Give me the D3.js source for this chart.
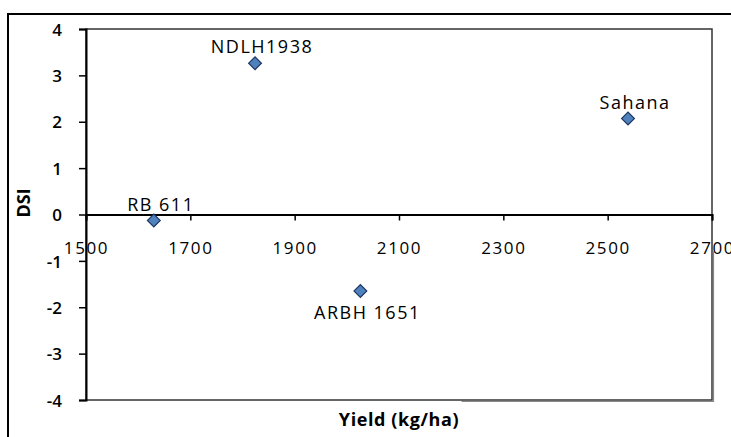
<!DOCTYPE html>
<html lang="en">
  <head>
    <meta charset="UTF-8" />
    <title>DSI vs yield</title>
    <script src="https://cdnjs.cloudflare.com/ajax/libs/d3/7.9.0/d3.min.js"></script>
    <style>
      body { margin: 0; background: #fff; }
      text { font-family: "Open Sans", sans-serif; fill: #000; }
    </style>
  </head>
  <body>
    <div id="wrapper"></div>
    <script>
      // genotypes
      const genotypes = ["NDLH1938", "Sahana", "RB 611", "ARBH 1651"];
      const yieldValues = [1824, 2539, 1630, 2026];
      const dsiValues = [3.26, 2.07, -0.13, -1.65];
      const labelSide = ["above", "above", "above", "below"];

      const xTicks = [1500, 1700, 1900, 2100, 2300, 2500, 2700];
      const yTicks = [-4, -3, -2, -1, 0, 1, 2, 3, 4];

      const dimensions = {
        width: 731,
        height: 437,
        margin: { left: 86, right: 19, top: 29, bottom: 37 },
      };
      dimensions.boundedWidth =
        dimensions.width - dimensions.margin.left - dimensions.margin.right;
      dimensions.boundedHeight =
        dimensions.height - dimensions.margin.top - dimensions.margin.bottom;

      const svg = d3
        .select("#wrapper")
        .append("svg")
        .attr("width", dimensions.width)
        .attr("height", dimensions.height);

      // outer frame (only top and left show)
      svg.append("line")
        .attr("x1", 8).attr("x2", dimensions.width)
        .attr("y1", 14).attr("y2", 14)
        .attr("stroke", "#000").attr("stroke-width", 2);
      svg.append("line")
        .attr("x1", 8).attr("x2", 8)
        .attr("y1", 13).attr("y2", dimensions.height)
        .attr("stroke", "#000").attr("stroke-width", 2);

      const bounds = svg
        .append("g")
        .attr("transform", `translate(${dimensions.margin.left},${dimensions.margin.top})`);

      const xScale = d3.scaleLinear()
        .domain([1500, 2700])
        .range([0, dimensions.boundedWidth]);
      const yScale = d3.scaleLinear()
        .domain([-4, 4])
        .range([dimensions.boundedHeight, 0]);

      // plot area box
      bounds.append("rect")
        .attr("width", dimensions.boundedWidth)
        .attr("height", dimensions.boundedHeight)
        .attr("fill", "none")
        .attr("stroke", "#333")
        .attr("stroke-width", 1.5);
      // little shadow on the right/bottom
      bounds.append("path")
        .attr("d", `M${dimensions.boundedWidth + 1.5},${dimensions.boundedHeight * 0.6}V${dimensions.boundedHeight + 1.5}H${dimensions.boundedWidth * 0.6}`)
        .attr("fill", "none")
        .attr("stroke", "#888")
        .attr("stroke-width", 1.2);

      // y axis
      const yAxis = bounds.append("g")
        .call(d3.axisLeft(yScale).tickValues(yTicks).tickSize(7).tickPadding(17).tickFormat(d3.format("d")));
      yAxis.select(".domain").attr("stroke", "#000").attr("stroke-width", 2);
      yAxis.selectAll(".tick line").attr("stroke", "#000").attr("stroke-width", 1.5);
      yAxis.selectAll(".tick text")
        .style("font-family", "Open Sans")
        .style("font-size", "17px")
        .style("font-weight", 600)
        .attr("fill", "#000")
        .attr("dy", "0.36em")
        .text(d => d < 0 ? "-" + Math.abs(d) : d);

      // x axis drawn on the zero line
      const xAxis = bounds.append("g")
        .attr("transform", `translate(0,${yScale(0)})`)
        .call(d3.axisBottom(xScale).tickValues(xTicks).tickSize(6).tickPadding(21).tickFormat(d3.format("d")));
      xAxis.select(".domain").attr("stroke", "#000").attr("stroke-width", 2);
      xAxis.selectAll(".tick line").attr("stroke", "#000").attr("stroke-width", 1.5);
      xAxis.selectAll(".tick text")
        .style("font-family", "Open Sans")
        .style("font-size", "17px")
        .style("letter-spacing", "1.6px")
        .attr("fill", "#000");

      // axis titles
      svg.append("text")
        .attr("x", dimensions.margin.left + dimensions.boundedWidth / 2)
        .attr("y", 426)
        .attr("text-anchor", "middle")
        .style("font-size", "18px")
        .style("font-weight", 700)
        .style("letter-spacing", "0.6px")
        .text("Yield (kg/ha)");
      svg.append("text")
        .attr("transform", "translate(30,203) rotate(-90)")
        .attr("text-anchor", "middle")
        .style("font-size", "18px")
        .style("font-weight", 700)
        .text("DSI");

      const dataset = genotypes.map((name, i) => ({
        name, yield: yieldValues[i], dsi: dsiValues[i], side: labelSide[i],
      }));

      // markers
      bounds.selectAll("path.pt")
        .data(dataset)
        .join("path")
        .attr("class", "pt")
        .attr("d", d3.symbol(d3.symbolSquare, 82))
        .attr("transform", d => `translate(${xScale(d.yield)},${yScale(d.dsi)}) rotate(45)`)
        .attr("fill", "#4f81bd")
        .attr("stroke", "#1f3864")
        .attr("stroke-width", 1.2);

      // data labels
      bounds.selectAll("text.lbl")
        .data(dataset)
        .join("text")
        .attr("class", "lbl")
        .attr("x", d => xScale(d.yield) + 7)
        .attr("y", d => yScale(d.dsi) + (d.side === "above" ? -10 : 28))
        .attr("text-anchor", "middle")
        .style("font-size", "18px")
        .style("font-weight", 500)
        .style("letter-spacing", "1.5px")
        .text(d => d.name);
    </script>
  </body>
</html>
